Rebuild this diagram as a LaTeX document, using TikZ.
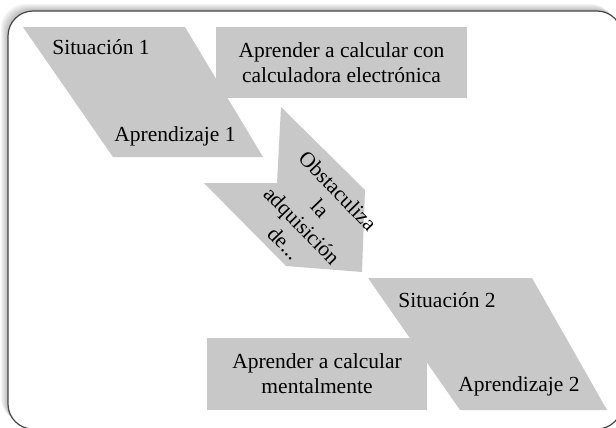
\documentclass[tikz,border=0pt]{standalone}
\usepackage{fontspec}
\setmainfont{Liberation Serif}
\definecolor{boxgray}{RGB}{200,200,200}
\definecolor{framegray}{RGB}{70,70,70}
\begin{document}
\begin{tikzpicture}[x=1bp,y=-1bp,
  shapefill/.style={fill=boxgray, draw=none},
  lbl/.style={inner sep=0pt, font=\fontsize{21.5bp}{25bp}\selectfont, align=center, text=black},
  framepath/.style={rounded corners=25bp}]
\useasboundingbox (0,0) rectangle (616,427);
% shadow of the frame
\foreach \i in {8,7,...,1}{
  \fill[black, opacity=0.035, framepath] (8-\i*0.9,11-\i*0.9) rectangle (622-\i*0.9,429-\i*0.9);
}
\draw[framepath, fill=white, draw=framegray, line width=1.2bp] (8,11) rectangle (622,429);

% shapes
\fill[shapefill] (23,27) -- (185,27) -- (263,157) -- (113,157) -- cycle;
\fill[shapefill] (216,27) rectangle (467,98);
\fill[shapefill] (281,107) -- (365,190) -- (362,272) -- (286,266) -- (204,183) -- (277,183) -- cycle;
\fill[shapefill] (368,278) -- (532,278) -- (607,410) -- (460,410) -- cycle;
\fill[shapefill] (207,338) rectangle (427,410);

% texts
\node[lbl, anchor=base] (s1) at (101,54) {Situación 1};
\node[lbl, anchor=base] (a1) at (175,141) {Aprendizaje 1};
\node[lbl] (r1) at (341.5,62.5) {Aprender a calcular con\\calculadora electrónica};
\node[lbl, rotate=-46] (ob) at (311,217) {Obstaculiza\\la\\adquisición\\de...};
\node[lbl, anchor=base] (s2) at (447,307) {Situación 2};
\node[lbl, anchor=base] (a2) at (519,391) {Aprendizaje 2};
\node[lbl] (r2) at (317,374) {Aprender a calcular\\mentalmente};
\end{tikzpicture}
\end{document}
